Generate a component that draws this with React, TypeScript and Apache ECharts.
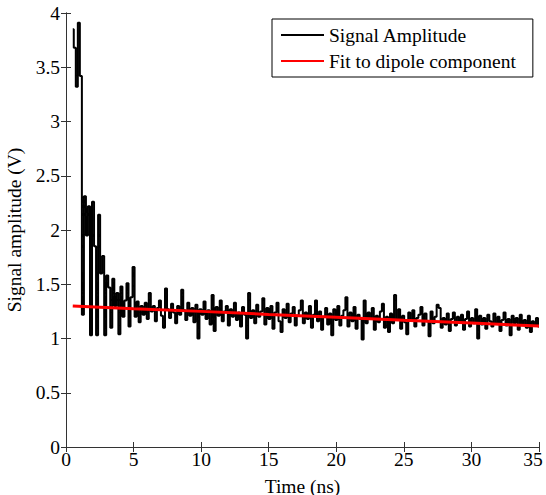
import React, { useEffect, useRef } from "react";
import * as echarts from "echarts";

const signalStart = 0.5;
const signalStep = 0.15;
const signalValues: number[] = [
  3.85, 3.68, 3.32, 3.91, 3.42, 1.22, 2.31, 1.95, 2.22, 1.03,
  2.26, 1.85, 1.03, 2.14, 1.60, 1.76, 1.03, 1.58, 1.47, 1.10,
  1.55, 1.30, 1.42, 1.04, 1.48, 1.20, 1.35, 1.51, 1.11, 1.38,
  1.66, 1.20, 1.34, 1.15, 1.30, 1.22, 1.33, 1.18, 1.42, 1.25,
  1.30, 1.16, 1.28, 1.35, 1.21, 1.10, 1.46, 1.27, 1.19, 1.32,
  1.24, 1.14, 1.30, 1.22, 1.45, 1.26, 1.17, 1.33, 1.21, 1.28,
  1.15, 1.31, 1.00, 1.27, 1.22, 1.34, 1.18, 1.26, 1.13, 1.40,
  1.07, 1.29, 1.21, 1.35, 1.16, 1.25, 1.30, 1.12, 1.27, 1.20,
  1.33, 1.17, 1.24, 1.11, 1.29, 1.22, 1.00, 1.42, 1.19, 1.26,
  1.14, 1.31, 1.20, 1.25, 1.37, 1.13, 1.28, 1.18, 1.30, 1.09,
  1.24, 1.33, 1.16, 1.06, 1.27, 1.19, 1.32, 1.15, 1.23, 1.29,
  1.12, 1.21, 1.26, 1.35, 1.14, 1.24, 1.18, 1.30, 1.10, 1.22,
  1.35, 1.16, 1.25, 1.08, 1.20, 1.28, 1.13, 1.23, 1.03, 1.27,
  1.17, 1.30, 1.12, 1.21, 1.26, 1.38, 1.11, 1.24, 1.16, 1.29,
  1.09, 1.22, 1.18, 0.99, 1.35, 1.14, 1.24, 1.19, 1.28, 1.08,
  1.21, 1.15, 1.25, 1.32, 1.10, 1.20, 1.06, 1.23, 1.14, 1.40,
  1.18, 1.27, 1.09, 1.21, 1.15, 1.04, 1.24, 1.17, 1.26, 1.11,
  1.19, 1.22, 1.29, 1.12, 1.23, 1.16, 1.02, 1.25, 1.14, 1.20,
  1.31, 1.28, 1.10, 1.19, 1.13, 1.23, 1.07, 1.18, 1.24, 1.12,
  1.20, 1.15, 1.22, 1.08, 1.18, 1.25, 1.11, 1.19, 1.14, 1.27,
  1.00, 1.21, 1.13, 1.19, 1.09, 1.22, 1.16, 1.11, 1.23, 1.14,
  1.20, 1.07, 1.17, 1.24, 1.12, 1.18, 1.03, 1.21, 1.14, 1.19,
  1.08, 1.22, 1.13, 1.17, 1.10, 1.21, 1.06, 1.16, 1.12, 1.19,
  1.11,
];

// Fit to dipole component
const fitTimes: number[] = [0.5, 5, 10, 15, 20, 25, 30, 35];
const fitValues: number[] = [1.3, 1.275, 1.25, 1.222, 1.195, 1.168, 1.142, 1.115];

const xTicks = { min: 0, max: 35, interval: 5 };
const yTicks = { min: 0, max: 4, interval: 0.5 };

const seriesNames = ["Signal Amplitude", "Fit to dipole component"];
const xLabel = "Time (ns)";
const yLabel = "Signal amplitude (V)";

const FONT = "'Liberation Serif', 'Times New Roman', serif";
const AXIS_COLOR = "#333";
const FS = 19.5;

export default function App() {
  const ref = useRef<HTMLDivElement>(null);

  useEffect(() => {
    if (!ref.current) return;
    document.body.style.margin = "0";
    const chart = echarts.init(ref.current, undefined, { renderer: "svg" });

    const signalData = signalValues.map((v, i) => [
      +(signalStart + i * signalStep).toFixed(3),
      v,
    ]);
    const fitData = fitTimes.map((t, i) => [t, fitValues[i]]);

    const axisCommon = {
      axisLine: { show: true, lineStyle: { color: AXIS_COLOR, width: 1 } },
      axisTick: { show: true, inside: true, length: 5, lineStyle: { color: AXIS_COLOR } },
      splitLine: { show: false },
    };

    chart.setOption({
      animation: false,
      backgroundColor: "#fff",
      textStyle: { fontFamily: FONT },
      grid: {
        left: 66,
        right: 7,
        top: 13,
        bottom: 48,
        containLabel: false,
        outerBoundsMode: "none",
      },
      xAxis: [
        {
          type: "value",
          ...xTicks,
          position: "bottom",
          ...axisCommon,
          axisLabel: {
            color: "#000",
            fontSize: FS,
            fontFamily: FONT,
            margin: 2,
            formatter: (v: number) => (v === xTicks.max ? `${v}{s|}` : String(v)),
            rich: { s: { width: 12, fontSize: FS } },
          },
          name: xLabel,
          nameLocation: "middle",
          nameGap: 29,
          nameTextStyle: { color: "#000", fontSize: FS, fontFamily: FONT },
        },
        {
          type: "value",
          ...xTicks,
          position: "top",
          ...axisCommon,
          axisLabel: { show: false },
        },
      ],
      yAxis: [
        {
          type: "value",
          ...yTicks,
          position: "left",
          ...axisCommon,
          axisLabel: { color: "#000", fontSize: FS, fontFamily: FONT, margin: 6 },
          name: yLabel,
          nameLocation: "middle",
          nameGap: 36,
          nameTextStyle: { color: "#000", fontSize: FS, fontFamily: FONT },
        },
        {
          type: "value",
          ...yTicks,
          position: "right",
          ...axisCommon,
          axisLabel: { show: false },
        },
      ],
      legend: {
        orient: "vertical",
        left: 272,
        top: 19,
        padding: [6, 17, 6, 9],
        itemGap: 6,
        itemWidth: 43,
        itemHeight: 2,
        icon: "rect",
        borderColor: "#000",
        borderWidth: 1,
        backgroundColor: "#fff",
        textStyle: { color: "#000", fontSize: FS, fontFamily: FONT, lineHeight: 19 },
        data: seriesNames,
      },
      series: [
        {
          name: seriesNames[0],
          type: "line",
          data: signalData,
          step: "middle",
          showSymbol: false,
          symbol: "none",
          lineStyle: { color: "#000", width: 2 },
          itemStyle: { color: "#000" },
          z: 2,
        },
        {
          name: seriesNames[1],
          type: "line",
          data: fitData,
          showSymbol: false,
          symbol: "none",
          lineStyle: { color: "#ff0000", width: 3 },
          itemStyle: { color: "#ff0000" },
          z: 3,
        },
      ],
    });

    return () => chart.dispose();
  }, []);

  return <div ref={ref} style={{ width: 546, height: 495 }} />;
}
